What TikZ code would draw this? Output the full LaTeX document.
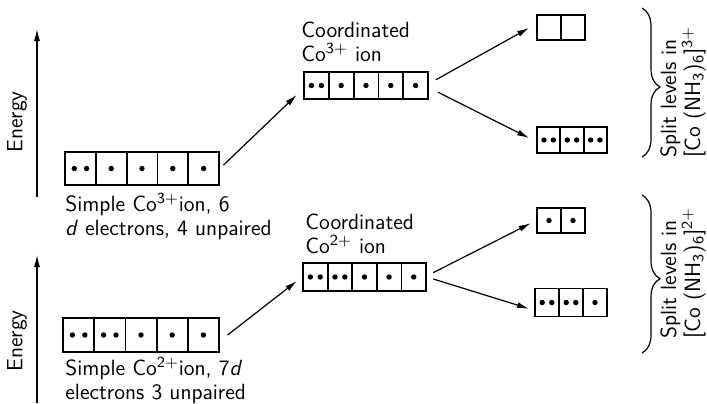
\documentclass[tikz,border=0pt]{standalone}
\usepackage{tikz}
\usetikzlibrary{arrows.meta,calc,decorations.pathreplacing}

\tikzset{
  cell/.style={draw,line width=0.9pt,inner sep=0pt},
  link/.style={->,line width=0.6pt,shorten <=3.5pt,shorten >=3.5pt},
  label/.style={inner sep=0pt,align=left},
  splitbrace/.style={decorate,decoration={brace,amplitude=9pt,aspect=0.53},line width=0.6pt}
}
% one row of orbital boxes: name, left x, centre y, cell width, cell height, electrons per box
\newcommand{\orbrow}[6]{%
  \foreach \e [count=\i] in {#6} {
    \node[cell,minimum width={#4*0.5pt},minimum height={#5*0.5pt}] (#1-\i) at ({#2+(\i-0.5)*#4},#3) {};
    \ifnum\e>1
      \fill ($(#1-\i)+({-0.2*#4},0)$) circle (1.35pt) ($(#1-\i)+({0.2*#4},0)$) circle (1.35pt);
    \else\ifnum\e=1
      \fill (#1-\i) circle (1.35pt);
    \fi\fi
  }}

\begin{document}
\begin{tikzpicture}[x=0.5pt,y=-0.5pt,>={Latex[length=6pt,width=3pt]},
  font=\sffamily\fontsize{11}{12}\selectfont]
  \useasboundingbox (0,0) rectangle (707,403);

  % Co3+
  \coordinate (eb3) at (37,197);
  \coordinate (et3) at (37,29);
  \draw[->,line width=0.6pt] (eb3) -- (et3);
  \node[rotate=90] (en3) at (17,122) {Energy};
  \orbrow{s3}{65}{168.5}{30.8}{33}{2,1,1,1,1}
  \node[label,anchor=north west] (ls3) at (65,193) {Simple Co\textsuperscript{3+}ion, 6\\\textit{d} electrons, 4 unpaired};
  \orbrow{c3}{304}{85.5}{24.8}{27}{2,1,1,1,1}
  \node[label,anchor=north west] (lc3) at (301,22) {Coordinated\\Co\textsuperscript{3+} ion};
  \orbrow{e3}{537}{27.5}{24}{25}{0,0}
  \orbrow{t3}{537}{140}{23.3}{26}{2,2,2}
  \draw[link,shorten <=2.5pt,shorten >=4.4pt] (s3-5.east) -- (c3-1.194);
  \draw[link,shorten <=4pt,shorten >=4pt] (c3-5.8) -- (e3-1.165);
  \draw[link,shorten <=5pt,shorten >=3.9pt] (c3-5.-9) -- (t3-1.187);
  \draw[splitbrace] (642,8) -- (642,157);
  \node[label,rotate=90] (sp3) at (683,92) {Split levels in\\{}[Co (NH\textsubscript{3})\textsubscript{6}]\textsuperscript{3+}};

  % Co2+
  \coordinate (eb2) at (37,403);
  \coordinate (et2) at (37,255);
  \draw[->,line width=0.6pt] (eb2) -- (et2);
  \node[rotate=90] (en2) at (17,341) {Energy};
  \orbrow{s2}{63}{335}{31.2}{34}{2,2,1,1,1}
  \node[label,anchor=north west] (ls2) at (65,357) {Simple Co\textsuperscript{2+}ion, 7\textit{d}\\electrons 3 unpaired};
  \orbrow{c2}{303}{277}{24.6}{28}{2,2,1,1,1}
  \node[label,anchor=north west] (lc2) at (305,214) {Coordinated\\Co\textsuperscript{2+} ion};
  \orbrow{e2}{537}{220.5}{24}{25}{1,1}
  \orbrow{t2}{535}{302.5}{24}{28}{2,2,1}
  \draw[link,shorten <=4.8pt,shorten >=3.3pt] (s2-5.340) -- (c2-1.west);
  \draw[link,shorten <=3.5pt,shorten >=3pt] (c2-5.5) -- (e2-1.west);
  \draw[link,shorten <=3.3pt,shorten >=2.6pt] (c2-5.east) -- (t2-1.211);
  \draw[splitbrace] (642,195) -- (642,353);
  \node[label,rotate=90] (sp2) at (683,273) {Split levels in\\{}[Co (NH\textsubscript{3})\textsubscript{6}]\textsuperscript{2+}};
\end{tikzpicture}
\end{document}
